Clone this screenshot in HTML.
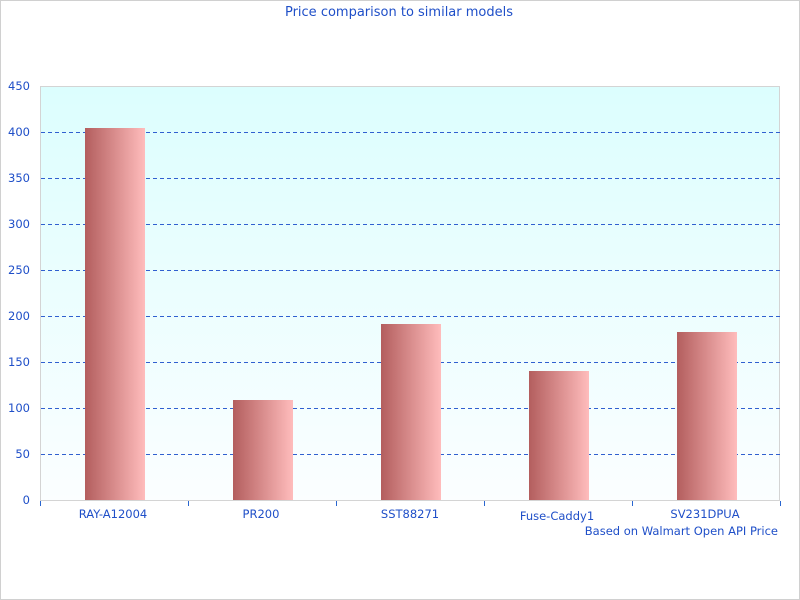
<!DOCTYPE html>
<html><head><style>body{margin:0;background:#fff}svg{display:block}</style></head><body>
<svg width="800" height="600" xmlns="http://www.w3.org/2000/svg" font-family="DejaVu Sans, sans-serif">
<defs>
<linearGradient id="bg" x1="0" y1="0" x2="0" y2="1"><stop offset="0" stop-color="#dcfefe"/><stop offset="1" stop-color="#fbfeff"/></linearGradient>
<linearGradient id="bar" x1="0" y1="0" x2="1" y2="0"><stop offset="0" stop-color="#b35e5e"/><stop offset="1" stop-color="#ffbcbc"/></linearGradient>
</defs>
<rect x="0.5" y="0.5" width="799" height="599" fill="#fff" stroke="#d0d0d0"/>
<text x="399" y="16" text-anchor="middle" font-size="13" fill="#1f4fc8">Price comparison to similar models</text>
<rect x="40.5" y="86.5" width="739" height="414" fill="url(#bg)" stroke="#d4d4d4"/>
<g stroke="#3060d0" stroke-dasharray="4,3" stroke-width="1">
<line x1="41" x2="780" y1="454.5" y2="454.5"/><line x1="41" x2="780" y1="408.5" y2="408.5"/><line x1="41" x2="780" y1="362.5" y2="362.5"/><line x1="41" x2="780" y1="316.5" y2="316.5"/><line x1="41" x2="780" y1="270.5" y2="270.5"/><line x1="41" x2="780" y1="224.5" y2="224.5"/><line x1="41" x2="780" y1="178.5" y2="178.5"/><line x1="41" x2="780" y1="132.5" y2="132.5"/>
</g>
<g fill="url(#bar)">
<rect x="85" y="128" width="60" height="372"/><rect x="233" y="400" width="60" height="100"/><rect x="381" y="324" width="60" height="176"/><rect x="529" y="371" width="60" height="129"/><rect x="677" y="332" width="60" height="168"/>
</g>
<line x1="40" x2="780" y1="500.5" y2="500.5" stroke="#d4d4d4"/>
<g stroke="#2a66d0"><line x1="40.5" x2="40.5" y1="501" y2="506"/><line x1="188.5" x2="188.5" y1="501" y2="506"/><line x1="336.5" x2="336.5" y1="501" y2="506"/><line x1="484.5" x2="484.5" y1="501" y2="506"/><line x1="632.5" x2="632.5" y1="501" y2="506"/><line x1="780.5" x2="780.5" y1="501" y2="506"/></g>
<g font-size="11.5" fill="#1f4fc8" text-anchor="end">
<text x="30" y="504">0</text><text x="30" y="458">50</text><text x="30" y="412">100</text><text x="30" y="366">150</text><text x="30" y="320">200</text><text x="30" y="274">250</text><text x="30" y="228">300</text><text x="30" y="182">350</text><text x="30" y="136">400</text><text x="30" y="90">450</text>
</g>
<g font-size="11.5" fill="#1f4fc8" text-anchor="middle">
<text x="113" y="518">RAY-A12004</text><text x="261" y="518">PR200</text><text x="410" y="518">SST88271</text><text x="557" y="520">Fuse-Caddy1</text><text x="705" y="518">SV231DPUA</text>
</g>
<text x="778" y="535" font-size="11.5" fill="#1f4fc8" text-anchor="end">Based on Walmart Open API Price</text>
</svg>
</body></html>
